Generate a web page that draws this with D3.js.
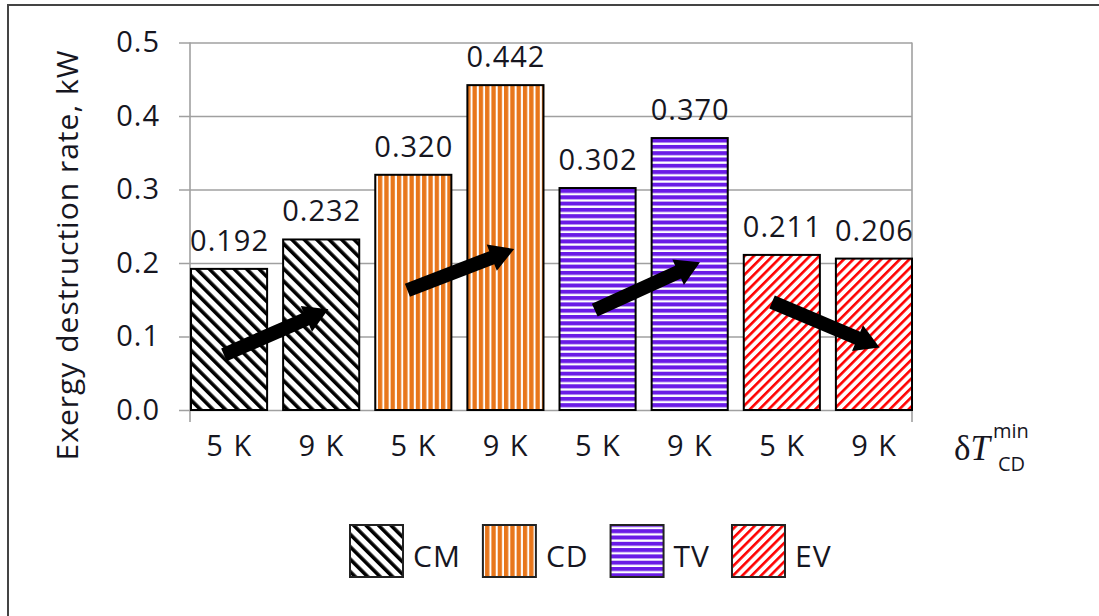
<!DOCTYPE html>
<html>
<head>
<meta charset="utf-8">
<script src="https://cdn.jsdelivr.net/npm/d3@7"></script>
<style>
  body { margin: 0; background: #fff; }
  text { font-family: "Open Sans", sans-serif; fill: #16161f; }
</style>
</head>
<body>
<svg id="chart" width="1099" height="616"></svg>
<script>
// chart values
const components = ['CM', 'CD', 'TV', 'EV'];
const tempLabels = ['5 K', '9 K'];
const cmValues = [0.192, 0.232];
const cdValues = [0.320, 0.442];
const tvValues = [0.302, 0.370];
const evValues = [0.211, 0.206];
const yTicks = [0.0, 0.1, 0.2, 0.3, 0.4, 0.5];

// trend arrows: [bar index, fraction across bar, value] for tail and tip
const arrowTails = [[0, 0.44, 0.075], [2, 0.43, 0.163], [4, 0.47, 0.136], [6, 0.38, 0.147]];
const arrowTips  = [[1, 0.60, 0.137], [3, 0.62, 0.219], [5, 0.64, 0.201], [7, 0.58, 0.085]];

const seriesValues = [cmValues, cdValues, tvValues, evValues];

const svg = d3.select('#chart');

const bars = [];
components.forEach((c, i) => {
    seriesValues[i].forEach((v, j) => {
        bars.push({ comp: c, temp: tempLabels[j], value: v, key: c + j });
    });
});

const x = d3.scaleBand()
    .domain(bars.map(d => d.key))
    .range([190, 912])
    .paddingInner(0.163)
    .paddingOuter(0);

const y = d3.scaleLinear()
    .domain([0, 0.5])
    .range([410, 42.5]);

// patterns
const defs = svg.append('defs');

function stripePattern(id, color, period, thick, angle, bg) {
    const p = defs.append('pattern')
        .attr('id', id)
        .attr('patternUnits', 'userSpaceOnUse')
        .attr('width', period)
        .attr('height', period)
        .attr('patternTransform', `rotate(${angle})`);
    p.append('rect').attr('width', period).attr('height', period).attr('fill', bg);
    p.append('rect').attr('x', 0).attr('y', 0)
        .attr('width', thick).attr('height', period).attr('fill', color);
}

stripePattern('pat-CM', '#000', 8.8, 3.6, -45, '#fff');
stripePattern('pat-CD', '#e8761b', 6.3, 4.3, 0, '#fff');
stripePattern('pat-TV', '#6a1be6', 6.3, 4.0, 90, '#fff');
stripePattern('pat-EV', '#ff0000', 6.6, 2.6, 45, '#fff');

// outer frame
svg.append('rect')
    .attr('x', 8).attr('y', 5)
    .attr('width', 1200).attr('height', 700)
    .attr('fill', 'none')
    .attr('stroke', '#444')
    .attr('stroke-width', 2);

// y axis with gridlines
const yAxis = svg.append('g')
    .attr('transform', 'translate(179,0)')
    .call(d3.axisLeft(y)
        .tickValues(yTicks)
        .tickFormat(d3.format('.1f'))
        .tickSize(-733)
        .tickPadding(19));
yAxis.select('.domain').remove();
yAxis.selectAll('line').attr('stroke', '#a0a0a0').attr('stroke-width', 1.6);
yAxis.selectAll('text')
    .attr('font-size', 29)
    .attr('letter-spacing', 1)
    .attr('fill', '#16161f')
    .style('font-family', '"Open Sans", sans-serif');

// vertical frame lines
[x.range()[0], x.range()[1]].forEach(px => {
    svg.append('line')
        .attr('x1', px).attr('x2', px)
        .attr('y1', y(0.5)).attr('y2', y(0) + 12)
        .attr('stroke', '#a0a0a0')
        .attr('stroke-width', 1.6);
});

// bars
svg.append('g').selectAll('rect')
    .data(bars)
    .join('rect')
    .attr('x', d => x(d.key) + 1)
    .attr('y', d => y(d.value))
    .attr('width', x.bandwidth() - 1)
    .attr('height', d => y(0) - y(d.value))
    .attr('fill', d => `url(#pat-${d.comp})`)
    .attr('stroke', '#000')
    .attr('stroke-width', 2);

// value labels
svg.append('g').selectAll('text')
    .data(bars)
    .join('text')
    .attr('x', d => x(d.key) + x.bandwidth() / 2 + 1)
    .attr('y', d => y(d.value) - 18)
    .attr('text-anchor', 'middle')
    .attr('font-size', 29)
    .attr('letter-spacing', 1)
    .text(d => d3.format('.3f')(d.value));

// category labels
svg.append('g').selectAll('text')
    .data(bars)
    .join('text')
    .attr('x', d => x(d.key) + x.bandwidth() / 2 + 1)
    .attr('y', 456)
    .attr('text-anchor', 'middle')
    .attr('font-size', 29)
    .attr('letter-spacing', 1.5)
    .text(d => d.temp);

// arrows
function arrowPath(t, h) {
    const x0 = x(bars[t[0]].key) + x.bandwidth() * t[1], y0 = y(t[2]);
    const x1 = x(bars[h[0]].key) + x.bandwidth() * h[1], y1 = y(h[2]);
    const dx = x1 - x0, dy = y1 - y0;
    const len = Math.hypot(dx, dy);
    const ux = dx / len, uy = dy / len;
    const nx = -uy, ny = ux;
    const sw = 7, hw = 14, hl = 24;
    const bx = x1 - ux * hl, by = y1 - uy * hl;
    const pts = [
        [x0 + nx * sw, y0 + ny * sw],
        [bx + nx * sw, by + ny * sw],
        [bx + nx * hw, by + ny * hw],
        [x1, y1],
        [bx - nx * hw, by - ny * hw],
        [bx - nx * sw, by - ny * sw],
        [x0 - nx * sw, y0 - ny * sw]
    ];
    return d3.line()(pts) + 'Z';
}

svg.append('g').selectAll('path')
    .data(arrowTails.map((t, i) => [t, arrowTips[i]]))
    .join('path')
    .attr('d', d => arrowPath(d[0], d[1]))
    .attr('fill', '#000');

// y axis title
svg.append('text')
    .attr('transform', 'translate(78,255) rotate(-90)')
    .attr('text-anchor', 'middle')
    .attr('font-size', 30)
    .attr('letter-spacing', 1)
    .text('Exergy destruction rate, kW');

// x axis symbol
const sym = svg.append('g');
sym.append('text')
    .attr('x', 954).attr('y', 460)
    .style('font-family', '"Liberation Serif", "DejaVu Serif", serif')
    .attr('font-size', 35)
    .attr('fill', '#1a1a1a')
    .text('δ')
  .append('tspan')
    .attr('font-style', 'italic')
    .text('T');
sym.append('text')
    .attr('x', 993).attr('y', 438)
    .attr('font-size', 20)
    .text('min');
sym.append('text')
    .attr('x', 998).attr('y', 471)
    .attr('font-size', 20)
    .text('CD');

// legend
const legend = svg.append('g');
let lx = 350;
components.forEach(c => {
    legend.append('rect')
        .attr('x', lx).attr('y', 525)
        .attr('width', 53).attr('height', 52)
        .attr('fill', `url(#pat-${c})`)
        .attr('stroke', '#222')
        .attr('stroke-width', 2);
    const t = legend.append('text')
        .attr('x', lx + 63).attr('y', 567)
        .attr('font-size', 30)
        .attr('letter-spacing', 1)
        .text(c);
    lx += 63 + t.node().getComputedTextLength() + 22;
});
</script>
</body>
</html>
